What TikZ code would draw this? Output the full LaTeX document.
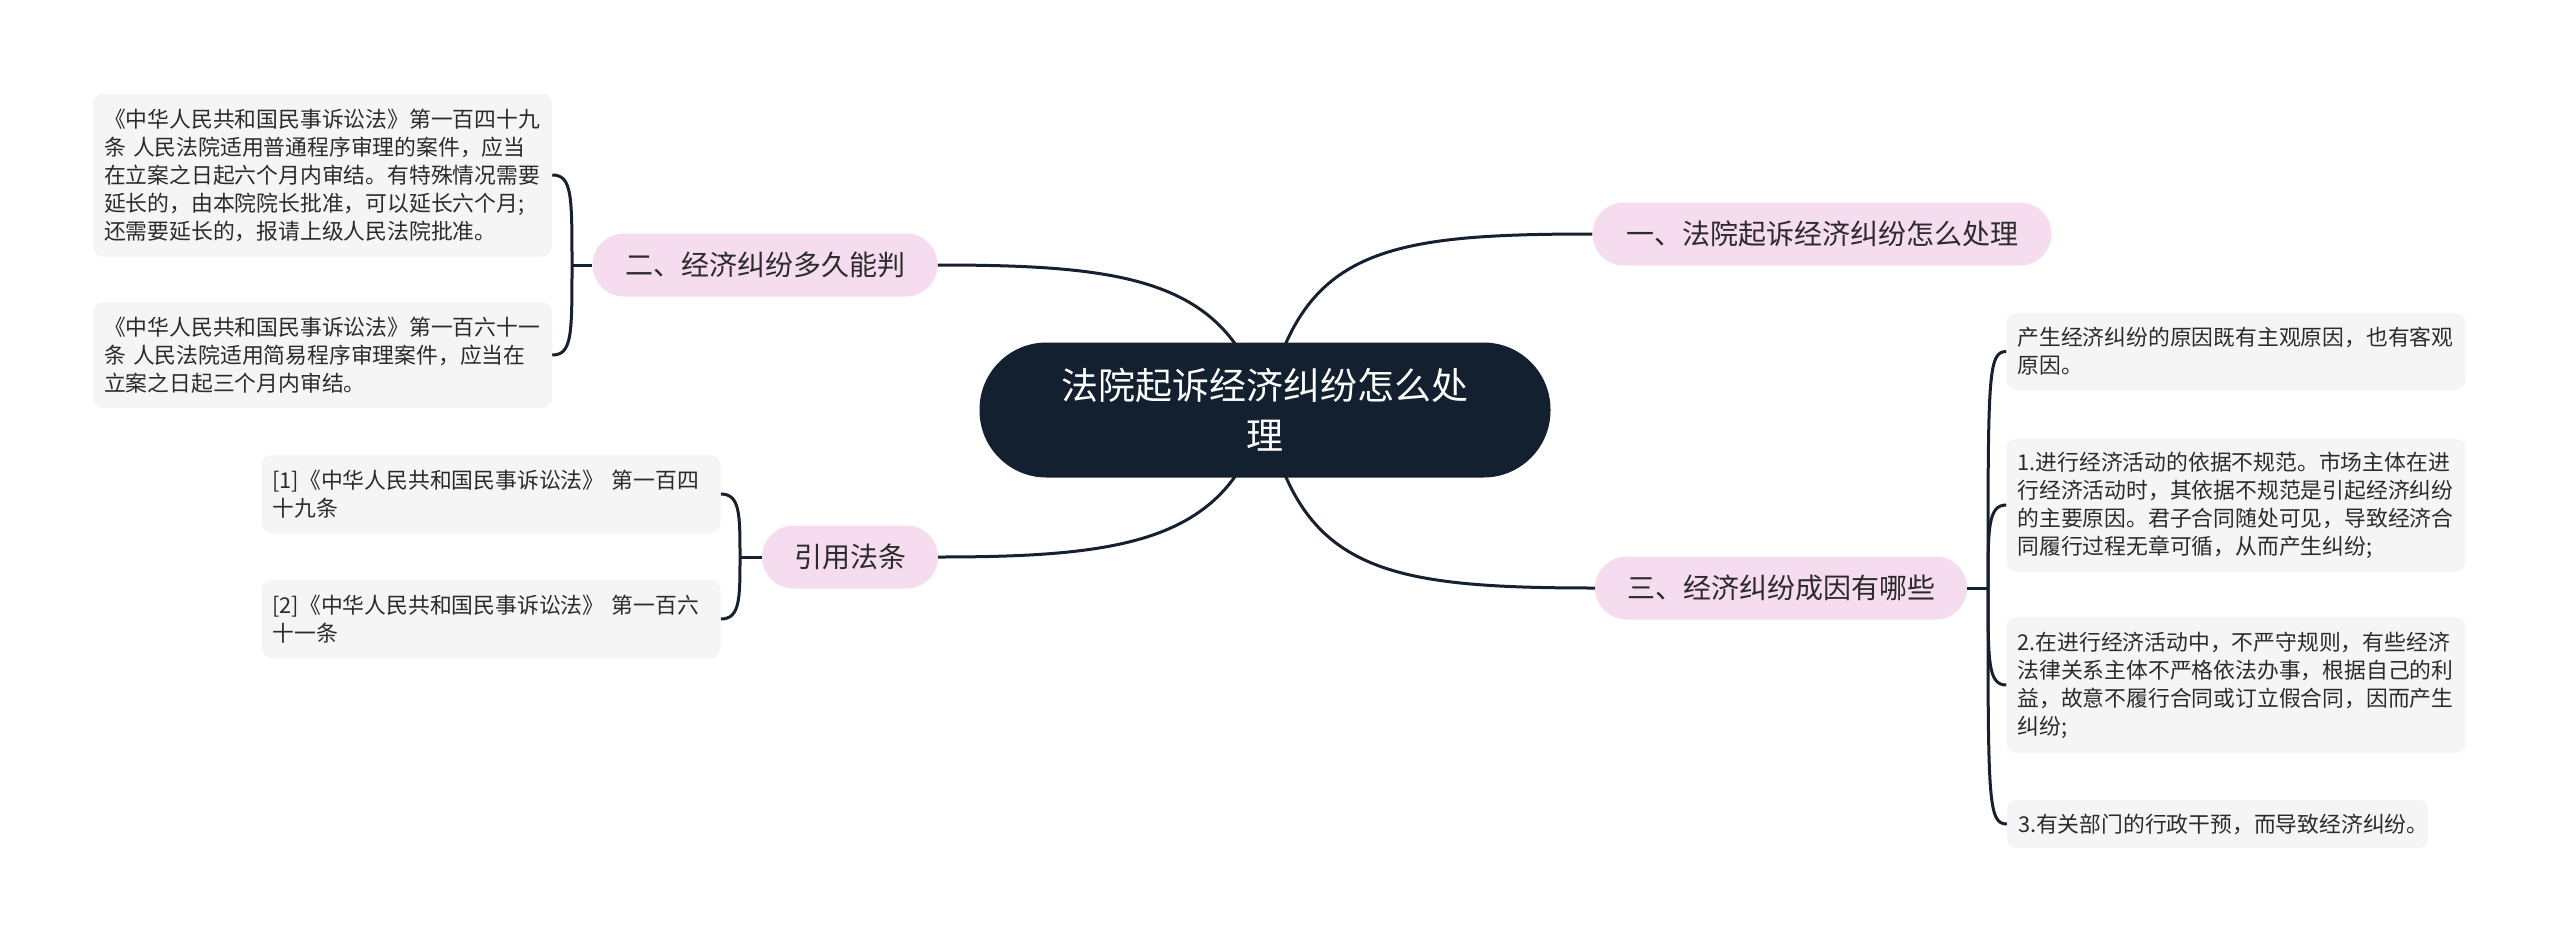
\documentclass[tikz,border=0pt]{standalone}
\usepackage{fontspec}
\setmainfont{Noto Sans CJK SC}
\usetikzlibrary{backgrounds}
\definecolor{navy}{HTML}{13202F}
\definecolor{pinkbg}{HTML}{F5DCEF}
\definecolor{leafbg}{HTML}{F5F5F5}
\definecolor{txt}{HTML}{2B2B2B}
\definecolor{linec}{HTML}{16202E}
\tikzset{
  centre/.style={rectangle, rounded corners=67pt, fill=navy, text=white, minimum width=571pt, minimum height=135pt, font=\fontsize{37}{50}\selectfont, align=center, inner sep=0pt},
  branch/.style={rectangle, rounded corners=31.5pt, fill=pinkbg, text=txt, minimum height=63pt, inner sep=0pt, font=\fontsize{28}{34}\selectfont},
  leaf/.style={rectangle, rounded corners=10pt, fill=leafbg, text=txt, text width=437pt, inner xsep=11pt, inner ysep=0pt, align=left, font=\fontsize{21.8}{28}\selectfont},
  conn/.style={draw=linec, line width=3pt},
}
\begin{document}
\begin{tikzpicture}[x=1pt, y=-1pt]
\useasboundingbox (0,0) rectangle (2560,943);

% central node
\node[centre] (c) at (1265,410) {法院起诉经济纠纷怎么处\\理};

% branches
\node[branch, minimum width=459pt] (b1) at (1822,234) {一、法院起诉经济纠纷怎么处理};
\node[branch, minimum width=372pt] (b3) at (1781,588) {三、经济纠纷成因有哪些};
\node[branch, minimum width=345pt] (b2) at (765,265) {二、经济纠纷多久能判};
\node[branch, minimum width=176pt] (b4) at (850,557) {引用法条};

% left leaves
\node[leaf, minimum height=163pt] (l1) at (322.5,175) {《中华人民共和国民事诉讼法》第一百四十九\\条 人民法院适用普通程序审理的案件，应当\\在立案之日起六个月内审结。有特殊情况需要\\延长的，由本院院长批准，可以延长六个月;\\还需要延长的，报请上级人民法院批准。};
\node[leaf, minimum height=106pt] (l2) at (322.5,355) {《中华人民共和国民事诉讼法》第一百六十一\\条 人民法院适用简易程序审理案件，应当在\\立案之日起三个月内审结。};
\node[leaf, minimum height=78pt] (r1) at (491,494) {[1]《中华人民共和国民事诉讼法》 第一百四\\十九条};
\node[leaf, minimum height=78pt] (r2) at (491,619) {[2]《中华人民共和国民事诉讼法》 第一百六\\十一条};

% right leaves
\node[leaf, minimum height=77pt] (k1) at (2236,351.5) {产生经济纠纷的原因既有主观原因，也有客观\\原因。};
\node[leaf, minimum height=133pt] (k2) at (2236,505) {1.进行经济活动的依据不规范。市场主体在进\\行经济活动时，其依据不规范是引起经济纠纷\\的主要原因。君子合同随处可见，导致经济合\\同履行过程无章可循，从而产生纠纷;};
\node[leaf, minimum height=136pt] (k3) at (2236,685) {2.在进行经济活动中，不严守规则，有些经济\\法律关系主体不严格依法办事，根据自己的利\\益，故意不履行合同或订立假合同，因而产生\\纠纷;};
\node[leaf, text width=399pt, minimum height=48pt] (k4) at (2217.5,824) {3.有关部门的行政干预，而导致经济纠纷。};

% junctions
\coordinate (j2) at (572,265);
\coordinate (j4) at (740,557);
\coordinate (j3) at (1988,588);

\begin{scope}[on background layer]
  \fill[white] (0,0) rectangle (2560,943);
  \draw[conn] (c.center) .. controls (1300,250) and (1380,234) .. (b1.west);
  \draw[conn] (c.center) .. controls (1300,570) and (1380,588) .. (b3.west);
  \draw[conn] (c.center) .. controls (1230,280) and (1130,265) .. (b2.east);
  \draw[conn] (c.center) .. controls (1230,540) and (1130,557) .. (b4.east);

  \draw[conn] (b2.west) -- (j2);
  \draw[conn] (j2) .. controls (572,195) and (572,175) .. (l1.east);
  \draw[conn] (j2) .. controls (572,335) and (572,355) .. (l2.east);

  \draw[conn] (b4.west) -- (j4);
  \draw[conn] (j4) .. controls (740,514) and (740,494) .. (r1.east);
  \draw[conn] (j4) .. controls (740,599) and (740,619) .. (r2.east);

  \draw[conn] (b3.east) -- (j3);
  \draw[conn] (j3) .. controls (1988,375) and (1988,351.5) .. (k1.west);
  \draw[conn] (j3) .. controls (1988,528) and (1988,505) .. (k2.west);
  \draw[conn] (j3) .. controls (1988,662) and (1988,685) .. (k3.west);
  \draw[conn] (j3) .. controls (1988,800) and (1988,824) .. (k4.west);
\end{scope}
\end{tikzpicture}
\end{document}
